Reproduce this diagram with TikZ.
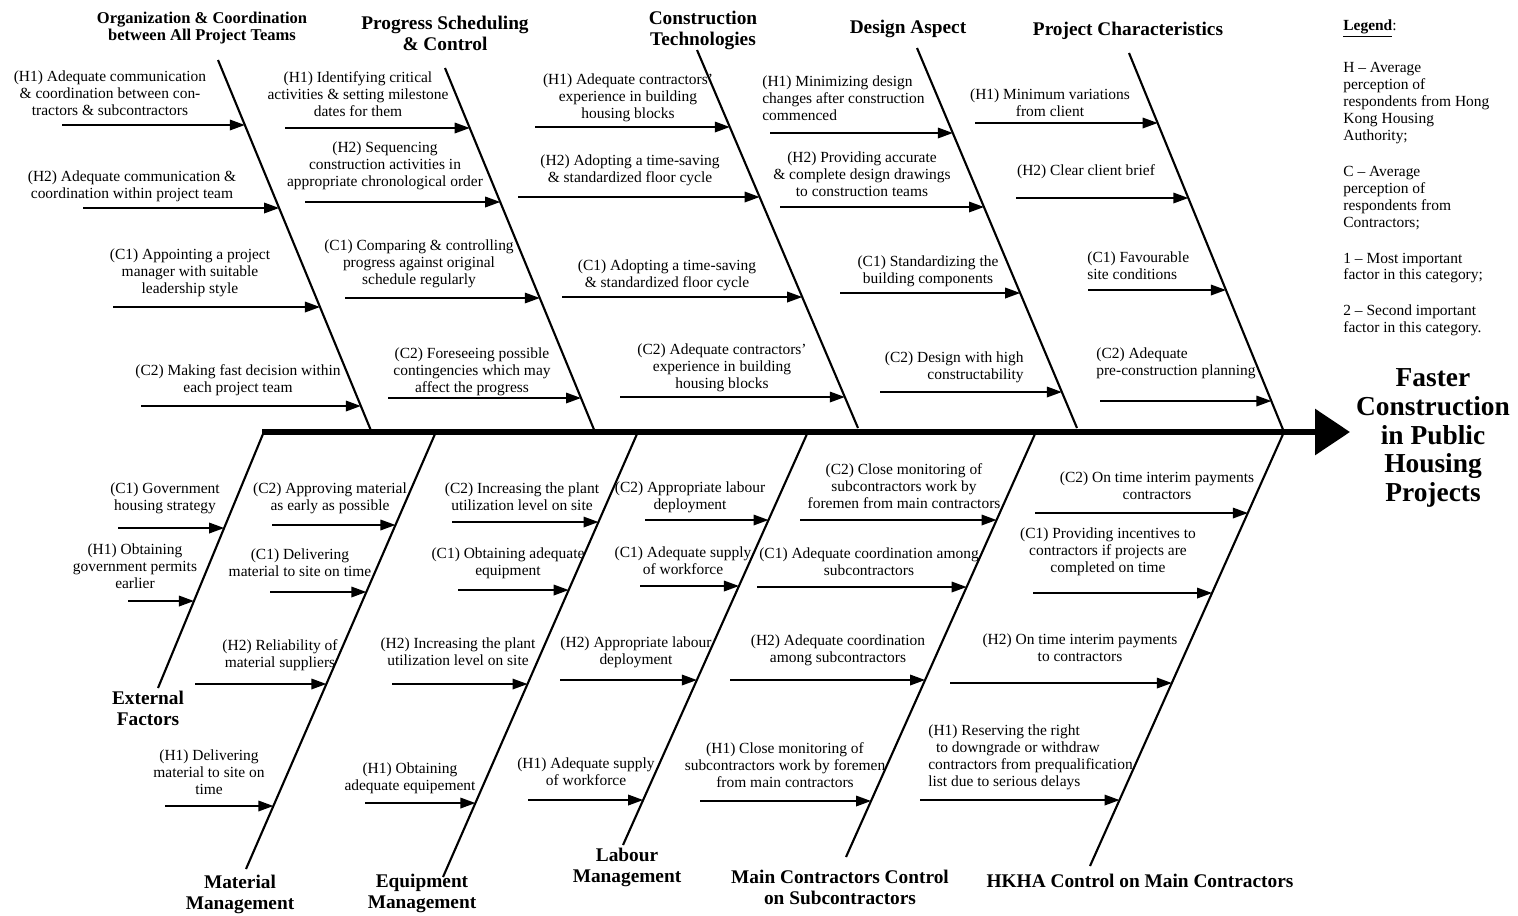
\documentclass[tikz,border=0pt]{standalone}
\usepackage{fontspec}
\setmainfont{Liberation Serif}
\usetikzlibrary{arrows.meta}
\newcommand\fbBody{\fontsize{8.8}{9.6}\selectfont}
\newcommand\fbHead{\fontsize{11}{11.9}\selectfont\bfseries}
\newcommand\fbHeadS{\fontsize{9.4}{10.2}\selectfont\bfseries}
\newcommand\fbEffect{\fontsize{15.6}{16.4}\selectfont\bfseries}
% #1 node options, #2 name, #3 bone top, #4 bone bottom, #5 y, #6 x start, #7 label pos, #8 text
\newcommand\cause[8][]{%
  \coordinate (#2s) at (#6,#5);
  \coordinate (#2e) at (intersection of #3--#4 and 0,#5--100,#5);
  \draw[rib] (#2s) -- (#2e);
  \node[lbl,#1] (#2t) at (#7) {#8};
}
\begin{document}
\begin{tikzpicture}[x=0.02cm, y=-0.02cm,
  lbl/.style={font=\fbBody, inner sep=0pt, align=center},
  cathead/.style={font=\fbHead, inner sep=0pt, align=center},
  leg/.style={font=\fbBody, inner sep=0pt, align=left, anchor=west},
  effect/.style={font=\fbEffect, inner sep=0pt, align=center},
  bone/.style={line width=1.2pt},
  rib/.style={line width=1pt, -{Triangle[length=3mm,width=2.1mm]}},
  spine/.style={line width=3.6pt, -{Triangle[length=7mm,width=9mm]}}]
\useasboundingbox (0,0) rectangle (1518,916);

% ---------- spine ----------
\coordinate (spS) at (262,432);
\coordinate (spE) at (1350,432);
\draw[spine] (spS) -- (spE);
\node[effect] (eff) at (1433,438) {Faster\\Construction\\in Public\\Housing\\Projects};

% ---------- bones ----------
\coordinate (orgT) at (218,60);   \coordinate (orgB) at (372,433);
\coordinate (prgT) at (445,68);   \coordinate (prgB) at (595,432);
\coordinate (conT) at (697,50);   \coordinate (conB) at (858,428);
\coordinate (desT) at (917,48);   \coordinate (desB) at (1077,428);
\coordinate (pchT) at (1129,53);  \coordinate (pchB) at (1284,432);
\coordinate (extT) at (263,434);  \coordinate (extB) at (158,688);
\coordinate (matT) at (435,434);  \coordinate (matB) at (246,869);
\coordinate (equT) at (637,434);  \coordinate (equB) at (443,877);
\coordinate (labT) at (807,434);  \coordinate (labB) at (623,845);
\coordinate (mcsT) at (1035,434); \coordinate (mcsB) at (846,857);
\coordinate (hkhT) at (1284,432); \coordinate (hkhB) at (1090,866);
\foreach \b in {org,prg,con,des,pch,ext,mat,equ,lab,mcs,hkh}
  \draw[bone] (\b T) -- (\b B);

% ---------- category labels ----------
\node[cathead,font=\fbHeadS] (orgL) at (202,28) {Organization \& Coordination\\between All Project Teams};
\node[cathead] (prgL) at (445,33) {Progress Scheduling\\\& Control};
\node[cathead] (conL) at (703,30) {Construction\\Technologies};
\node[cathead] (desL) at (908,29) {Design Aspect};
\node[cathead] (pchL) at (1128,31) {Project Characteristics};
\node[cathead] (extL) at (148,708) {External\\Factors};
\node[cathead] (matL) at (240,894) {Material\\Management};
\node[cathead] (equL) at (422,893) {Equipment\\Management};
\node[cathead] (labL) at (627,867) {Labour\\Management};
\node[cathead] (mcsL) at (840,887) {Main Contractors Control\\on Subcontractors};
\node[cathead] (hkhL) at (1140,881) {HKHA Control on Main Contractors};

% ---------- Organization ----------
\cause{o1}{orgT}{orgB}{125}{62}{110,93}{(H1) Adequate communication\\\& coordination between con-\\tractors \& subcontractors}
\cause{o2}{orgT}{orgB}{208}{83}{132,186}{(H2) Adequate communication \&\\coordination within project team}
\cause{o3}{orgT}{orgB}{307}{113}{190,273}{(C1) Appointing a project\\manager with suitable\\leadership style}
\cause{o4}{orgT}{orgB}{406}{141}{238,380}{(C2) Making fast decision within\\each project team}

% ---------- Progress ----------
\cause{p1}{prgT}{prgB}{128}{285}{358,94}{(H1) Identifying critical\\activities \& setting milestone\\dates for them}
\cause{p2}{prgT}{prgB}{202}{305}{385,166}{(H2) Sequencing\\construction activities in\\appropriate chronological order}
\cause{p3}{prgT}{prgB}{298}{345}{419,264}{(C1) Comparing \& controlling\\progress against original\\schedule regularly}
\cause{p4}{prgT}{prgB}{398}{388}{472,372}{(C2) Foreseeing possible\\contingencies which may\\affect the progress}

% ---------- Construction Technologies ----------
\cause{c1}{conT}{conB}{127}{535}{628,98}{(H1) Adequate contractors'\\experience in building\\housing blocks}
\cause{c2}{conT}{conB}{197}{518}{630,170}{(H2) Adopting a time-saving\\\& standardized floor cycle}
\cause{c3}{conT}{conB}{297}{562}{667,275}{(C1) Adopting a time-saving\\\& standardized floor cycle}
\cause{c4}{conT}{conB}{397}{620}{722,368}{(C2) Adequate contractors'\\experience in building\\housing blocks}

% ---------- Design ----------
\cause[align=left,anchor=west]{d1}{desT}{desB}{133}{770}{762,98}{(H1) Minimizing design\\changes after construction\\commenced}
\cause{d2}{desT}{desB}{207}{780}{862,174}{(H2) Providing accurate\\\& complete design drawings\\to construction teams}
\cause{d3}{desT}{desB}{293}{840}{928,271}{(C1) Standardizing the\\building components}
\cause[align=right,anchor=east]{d4}{desT}{desB}{392}{880}{1024,367}{(C2) Design with high\\constructability}

% ---------- Project Characteristics ----------
\cause{q1}{pchT}{pchB}{123}{975}{1050,103}{(H1) Minimum variations\\from client}
\cause{q2}{pchT}{pchB}{198}{1016}{1086,172}{(H2) Clear client brief}
\cause[align=left,anchor=west]{q3}{pchT}{pchB}{290}{1088}{1087,266}{(C1) Favourable\\site conditions}
\cause[align=left,anchor=west]{q4}{pchT}{pchB}{401}{1100}{1096,363}{(C2) Adequate\\pre-construction planning}

% ---------- External ----------
\cause{e1}{extT}{extB}{528}{118}{165,498}{(C1) Government\\housing strategy}
\cause{e2}{extT}{extB}{601}{128}{135,566}{(H1) Obtaining\\government permits\\earlier}

% ---------- Material ----------
\cause{m1}{matT}{matB}{525}{272}{330,498}{(C2) Approving material\\as early as possible}
\cause{m2}{matT}{matB}{592}{270}{300,563}{(C1) Delivering\\material to site on time}
\cause{m3}{matT}{matB}{684}{195}{280,655}{(H2) Reliability of\\material suppliers}
\cause{m4}{matT}{matB}{806}{165}{209,772}{(H1) Delivering\\material to site on\\time}

% ---------- Equipment ----------
\cause{u1}{equT}{equB}{522}{452}{522,497}{(C2) Increasing the plant\\utilization level on site}
\cause{u2}{equT}{equB}{590}{458}{508,563}{(C1) Obtaining adequate\\equipment}
\cause{u3}{equT}{equB}{684}{392}{458,652}{(H2) Increasing the plant\\utilization level on site}
\cause{u4}{equT}{equB}{803}{365}{410,778}{(H1) Obtaining\\adequate equipement}

% ---------- Labour ----------
\cause{l1}{labT}{labB}{520}{645}{690,497}{(C2) Appropriate labour\\deployment}
\cause{l2}{labT}{labB}{586}{640}{683,561}{(C1) Adequate supply\\of workforce}
\cause{l3}{labT}{labB}{680}{560}{636,652}{(H2) Appropriate labour\\deployment}
\cause{l4}{labT}{labB}{800}{528}{586,772}{(H1) Adequate supply\\of workforce}

% ---------- Main contractors ----------
\cause{s1}{mcsT}{mcsB}{520}{800}{904,486}{(C2) Close monitoring of\\subcontractors work by\\foremen from main contractors}
\cause{s2}{mcsT}{mcsB}{587}{757}{869,562}{(C1) Adequate coordination among\\subcontractors}
\cause{s3}{mcsT}{mcsB}{680}{730}{838,650}{(H2) Adequate coordination\\among subcontractors}
\cause{s4}{mcsT}{mcsB}{801}{700}{785,765}{(H1) Close monitoring of\\subcontractors work by foremen\\from main contractors}

% ---------- HKHA ----------
\cause{h1}{hkhT}{hkhB}{513}{1035}{1157,486}{(C2) On time interim payments\\contractors}
\cause{h2}{hkhT}{hkhB}{593}{1033}{1108,552}{(C1) Providing incentives to\\contractors if projects are\\completed on time}
\cause{h3}{hkhT}{hkhB}{683}{950}{1080,648}{(H2) On time interim payments\\to contractors}
\cause[align=left,anchor=west]{h4}{hkhT}{hkhB}{800}{920}{928,757}{(H1) Reserving the right\\\ \ to downgrade or withdraw\\contractors from prequalification\\list due to serious delays}

% ---------- legend ----------
\node[leg] (legT) at (1343,29) {\textbf{\underline{Legend}}:};
\node[leg] (legH) at (1343,103) {H -- Average\\perception of\\respondents from Hong\\Kong Housing\\Authority;};
\node[leg] (legC) at (1343,198) {C -- Average\\perception of\\respondents from\\Contractors;};
\node[leg] (leg1) at (1343,268) {1 -- Most important\\factor in this category;};
\node[leg] (leg2) at (1343,320) {2 -- Second important\\factor in this category.};
\end{tikzpicture}
\end{document}
